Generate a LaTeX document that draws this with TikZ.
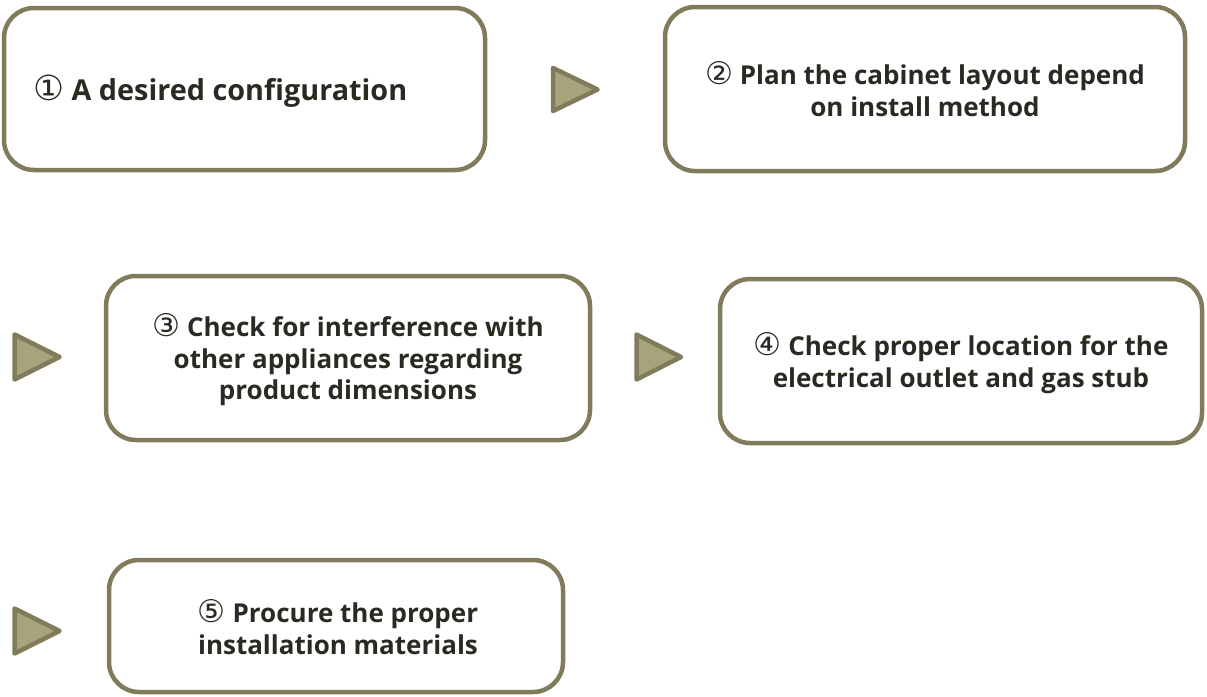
\documentclass[tikz,border=0pt]{standalone}
\usepackage{fontspec}
\setmainfont{Open Sans}
\newfontfamily\circfont{DejaVu Sans}
\definecolor{edge}{HTML}{7F7B5B}
\definecolor{trifill}{HTML}{A6A47A}
\definecolor{txt}{HTML}{2B2A22}
\tikzset{
  stepbox/.style={draw=edge, line width=4.5pt, rounded corners=30pt, fill=white},
  arrowtri/.style={draw=edge, fill=trifill, line width=4.5pt, line join=round},
  label/.style={text=txt, font=\bfseries\fontsize{26}{31.5}\selectfont, align=center, inner sep=0pt},
  biglabel/.style={label, font=\bfseries\fontsize{28.8}{34}\selectfont},
}
\newcommand{\cn}[1]{{\circfont\mdseries\scalebox{1.2}{#1}}}
\begin{document}
\begin{tikzpicture}[x=1pt,y=-1pt]
\useasboundingbox (0,0) rectangle (1207,696);
% boxes
\draw[stepbox] (4,8) rectangle (485,170);
\draw[stepbox] (665,7) rectangle (1185,171);
\draw[stepbox] (106,276) rectangle (590,440);
\draw[stepbox] (720,279) rectangle (1202,443);
\draw[stepbox] (109,560) rectangle (563,692);
% texts
\node[biglabel, anchor=west] (t1) at (33,91) {\cn{①} A desired configuration};
\node[label] (t2) at (925,89) {\cn{②} Plan the cabinet layout depend\\on install method};
\node[label] (t3) at (348,360) {\cn{③} Check for interference with\\other appliances regarding\\product dimensions};
\node[label] (t4) at (961,363) {\cn{④} Check proper location for the\\electrical outlet and gas stub};
\node[label] (t5) at (338,627) {\cn{⑤} Procure the proper\\installation materials};
% triangles
\coordinate (a1) at (553,68); \coordinate (b1) at (553,111); \coordinate (c1) at (597.5,89.5);
\draw[arrowtri] (a1) -- (b1) -- (c1) -- cycle;
\coordinate (a2) at (14.5,334.5); \coordinate (b2) at (14.5,379.5); \coordinate (c2) at (59.5,357);
\draw[arrowtri] (a2) -- (b2) -- (c2) -- cycle;
\coordinate (a3) at (636.5,334.5); \coordinate (b3) at (636.5,379.5); \coordinate (c3) at (681,357);
\draw[arrowtri] (a3) -- (b3) -- (c3) -- cycle;
\coordinate (a4) at (14.5,608.5); \coordinate (b4) at (14.5,653.5); \coordinate (c4) at (59.5,631);
\draw[arrowtri] (a4) -- (b4) -- (c4) -- cycle;
\end{tikzpicture}
\end{document}
